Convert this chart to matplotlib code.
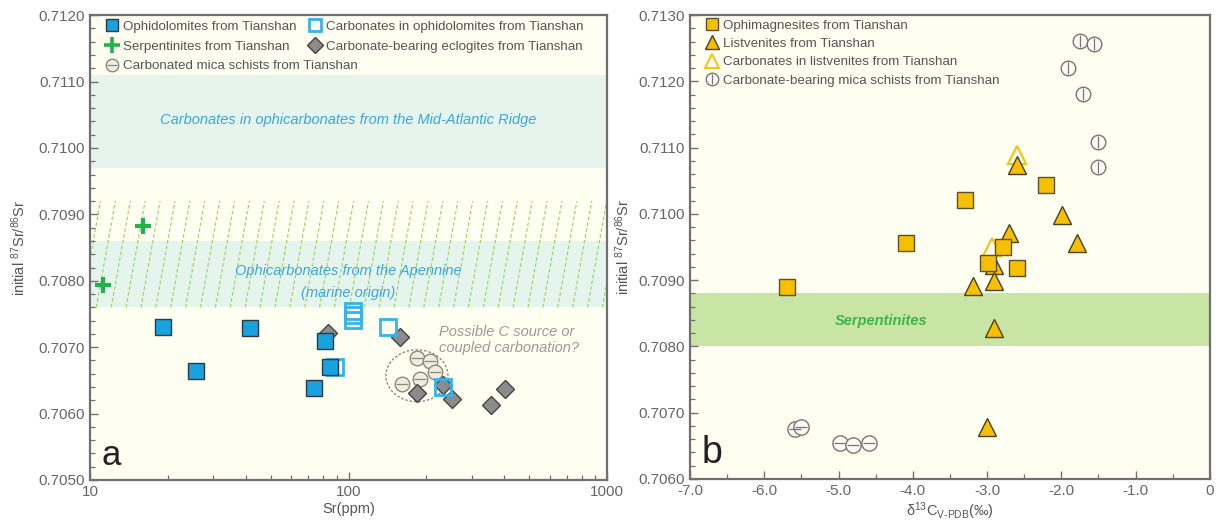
import numpy as np
import matplotlib
matplotlib.use("Agg")
import matplotlib.pyplot as plt
import matplotlib.transforms as mtransforms
from matplotlib.lines import Line2D
from matplotlib.legend_handler import HandlerTuple
from matplotlib.ticker import MultipleLocator, FixedLocator, NullFormatter, FixedFormatter

plt.rcParams["font.family"] = ["Liberation Sans", "DejaVu Sans"]
plt.rcParams["mathtext.fontset"] = "custom"
plt.rcParams["mathtext.rm"] = "Liberation Sans"
plt.rcParams["mathtext.it"] = "Liberation Sans:italic"
plt.rcParams["mathtext.default"] = "regular"

# ---------------- panel a: Sr (ppm) vs initial 87Sr/86Sr ----------------
ophidolomite_sr = [19.2, 25.7, 41.6, 81.1, 84.7, 73.5]
ophidolomite_ratio = [0.70730, 0.70664, 0.70729, 0.70709, 0.70670, 0.70639]
carb_ophid_sr = [104, 104, 104, 142, 88.7, 232]
carb_ophid_ratio = [0.70755, 0.70748, 0.70741, 0.70730, 0.70670, 0.70640]
serpentinite_sr = [16.0, 11.2]
serpentinite_ratio = [0.70883, 0.70794]
eclogite_sr = [83.4, 158, 184, 232, 251, 356, 403]
eclogite_ratio = [0.70721, 0.70715, 0.70631, 0.70643, 0.70622, 0.70613, 0.70637]
mica_a_sr = [184, 207, 161, 189, 216]
mica_a_ratio = [0.70684, 0.70679, 0.70645, 0.70652, 0.70663]

# reference fields (87Sr/86Sr ranges)
mar_band = (0.7097, 0.7111)
apennine_band = (0.7076, 0.7086)
apennine_hatch = (0.7076, 0.7092)

# ---------------- panel b: d13C vs initial 87Sr/86Sr ----------------
ophimag_d13c = [-5.69, -4.09, -3.30, -2.20, -2.79, -2.99, -2.60]
ophimag_ratio = [0.70890, 0.70956, 0.71021, 0.71043, 0.70950, 0.70926, 0.70918]
listv_d13c = [-2.60, -1.99, -1.79, -2.71, -2.90, -2.91, -3.19, -2.91, -3.00]
listv_ratio = [0.71074, 0.70998, 0.70956, 0.70971, 0.70923, 0.70899, 0.70891, 0.70828, 0.70678]
carb_listv_d13c = [-2.60, -2.93]
carb_listv_ratio = [0.71089, 0.70950]
mica_b_d13c = [-1.75, -1.56, -1.91, -1.71, -1.51, -1.51]
mica_b_ratio = [0.71261, 0.71256, 0.71220, 0.71181, 0.71108, 0.71071]
schist_b_d13c = [-5.59, -5.50, -4.98, -4.80, -4.59]
schist_b_ratio = [0.70675, 0.70678, 0.70654, 0.70651, 0.70654]
serp_band = (0.7080, 0.7088)

BG = "#fefef1"
TEAL = "#e6f4ee"
BLUE = "#19a2e0"
BLUE_TXT = "#3aa6e2"
GOLD = "#f6c000"
GRAY_D = "#8c8c8c"
SPINE = "#707070"
TICK_C = "#666666"
LEG_KW = dict(handler_map={tuple: HandlerTuple(ndivide=1, pad=0.0)}, frameon=False,
              fontsize=9.6, handlelength=0.9, handletextpad=0.35,
              borderaxespad=0.0, borderpad=0.0, loc="upper left")

fig = plt.figure(figsize=(12.22, 5.24), dpi=100)
ax_a = fig.add_axes([0.0737, 0.084, 0.4230, 0.887])
ax_b = fig.add_axes([0.5646, 0.086, 0.4255, 0.885])


def style_axes(ax):
    ax.set_facecolor(BG)
    for s in ax.spines.values():
        s.set_color(SPINE)
        s.set_linewidth(1.6)
    ax.tick_params(which="both", direction="in", color=SPINE, top=False, right=False,
                   labelcolor=TICK_C, labelsize=11)
    ax.tick_params(which="major", length=6, width=1.0)
    ax.tick_params(which="minor", length=3.5, width=0.9)


def circle_marker(ax, x, y, line, face, edge, size, z):
    ax.plot(x, y, ls="none", marker="o", ms=size, mfc=face, mec=edge, mew=1.0, zorder=z)
    ax.plot(x, y, ls="none", marker=line, ms=size * 0.8, mec=edge, mew=0.9, zorder=z)


def color_legend(leg):
    for txt in leg.get_texts():
        txt.set_color("#555555")
    return leg


# ---------------- panel a ----------------
ax = ax_a
style_axes(ax)
ax.set_xscale("log")
ax.set_xlim(10, 1000)
ax.set_ylim(0.7050, 0.7120)
ax.yaxis.set_major_locator(MultipleLocator(0.0010))
ax.yaxis.set_minor_locator(MultipleLocator(0.0002))
ax.yaxis.set_major_formatter(matplotlib.ticker.FormatStrFormatter("%.4f"))
ax.xaxis.set_major_locator(FixedLocator([10, 100, 1000]))
ax.xaxis.set_major_formatter(FixedFormatter(["10", "100", "1000"]))
ax.xaxis.set_minor_formatter(NullFormatter())

ax.axhspan(*mar_band, color=TEAL, lw=0, zorder=0.5)
ax.axhspan(*apennine_band, color=TEAL, lw=0, zorder=0.5)
trans = mtransforms.blended_transform_factory(ax.transAxes, ax.transData)
for i in range(-1, 36):
    x0 = 0.012 + i * 0.0288
    ax.plot([x0, x0 + 0.037], list(apennine_hatch), transform=trans, color="#9ad65c",
            lw=0.85, ls=(0, (3, 2)), zorder=0.8)

ax.text(100, 0.71042, "Carbonates in ophicarbonates from the Mid-Atlantic Ridge",
        style="italic", color=BLUE_TXT, fontsize=10.5, ha="center", va="center")
ax.text(100, 0.70815, "Ophicarbonates from the Apennine", style="italic",
        color=BLUE_TXT, fontsize=10.5, ha="center", va="center")
ax.text(100, 0.70781, "(marine origin)", style="italic", color=BLUE_TXT,
        fontsize=10.5, ha="center", va="center")
ax.text(224, 0.70711, "Possible C source or\ncoupled carbonation?", style="italic",
        color="#9a9a9a", fontsize=10.5, ha="left", va="center", linespacing=1.15)

# dashed envelope around the mica schist cluster
t = np.linspace(0, 2 * np.pi, 200)
ax.plot(10 ** (np.log10(184) + 0.12 * np.cos(t)), 0.70657 + 0.00039 * np.sin(t),
        color="#808080", lw=0.9, ls=(0, (2, 1.5)), zorder=2)

circle_marker(ax, mica_a_sr, mica_a_ratio, "_", "#efede0", "#8d8a78", 10.5, 3)
ax.plot(eclogite_sr, eclogite_ratio, ls="none", marker="D", ms=9, mfc=GRAY_D,
        mec="#444444", mew=1.0, zorder=4)
ax.plot(carb_ophid_sr, carb_ophid_ratio, ls="none", marker="s", ms=11, mfc="none",
        mec="#35b3ec", mew=2.0, zorder=5)
ax.plot(ophidolomite_sr, ophidolomite_ratio, ls="none", marker="s", ms=11.5, mfc=BLUE,
        mec="#2f3a40", mew=1.0, zorder=6)
ax.plot(serpentinite_sr, serpentinite_ratio, ls="none", marker="+", ms=12, mec="#22b24c",
        mew=3.0, zorder=6)

ax.text(0.022, 0.018, "a", transform=ax.transAxes, fontsize=25, color="#222222",
        ha="left", va="bottom")
ax.set_xlabel("Sr(ppm)", fontsize=10.5, color="#555555", labelpad=2)
ax.set_ylabel(r"initial $^{87}$Sr/$^{86}$Sr", fontsize=10.5, color="#555555", labelpad=8)

h_oph = Line2D([], [], ls="none", marker="s", ms=9, mfc=BLUE, mec="#2f3a40", mew=1.0)
h_serp = Line2D([], [], ls="none", marker="+", ms=11, mec="#22b24c", mew=2.6)
h_mica_o = Line2D([], [], ls="none", marker="o", ms=9, mfc="#efede0", mec="#8d8a78", mew=1.0)
h_mica_l = Line2D([], [], ls="none", marker="_", ms=7, mec="#8d8a78", mew=0.9)
h_cop = Line2D([], [], ls="none", marker="s", ms=9, mfc="none", mec="#35b3ec", mew=2.0)
h_ecl = Line2D([], [], ls="none", marker="D", ms=8, mfc=GRAY_D, mec="#444444", mew=1.0)
leg1 = color_legend(ax.legend(
    [h_oph, h_serp, (h_mica_o, h_mica_l)],
    ["Ophidolomites from Tianshan", "Serpentinites from Tianshan",
     "Carbonated mica schists from Tianshan"],
    bbox_to_anchor=(0.031, 0.988), labelspacing=0.55, **LEG_KW))
ax.add_artist(leg1)
color_legend(ax.legend(
    [h_cop, h_ecl],
    ["Carbonates in ophidolomites from Tianshan",
     "Carbonate-bearing eclogites from Tianshan"],
    bbox_to_anchor=(0.424, 0.988), labelspacing=0.55, **LEG_KW))

# ---------------- panel b ----------------
ax = ax_b
style_axes(ax)
ax.set_xlim(-7.0, 0.0)
ax.set_ylim(0.7060, 0.7130)
ax.xaxis.set_major_locator(MultipleLocator(1.0))
ax.xaxis.set_minor_locator(MultipleLocator(0.5))
ax.xaxis.set_major_formatter(matplotlib.ticker.FuncFormatter(
    lambda v, p: "0" if abs(v) < 1e-9 else f"{v:.1f}"))
ax.yaxis.set_major_locator(MultipleLocator(0.0010))
ax.yaxis.set_minor_locator(MultipleLocator(0.0002))
ax.yaxis.set_major_formatter(matplotlib.ticker.FormatStrFormatter("%.4f"))

ax.axhspan(*serp_band, color="#c9e5a5", lw=0, zorder=0.5)
ax.text(-4.43, 0.70838, "Serpentinites", style="italic", fontweight="bold",
        color="#3db54a", fontsize=10.5, ha="center", va="center")

circle_marker(ax, schist_b_d13c, schist_b_ratio, "_", "#fbfbf4", "#777777", 11, 3)
circle_marker(ax, mica_b_d13c, mica_b_ratio, "|", "#fbfbf4", "#777777", 10.5, 3)
ax.plot(carb_listv_d13c, carb_listv_ratio, ls="none", marker="^", ms=13, mfc="none",
        mec="#f7c21a", mew=1.6, zorder=4)
ax.plot(listv_d13c, listv_ratio, ls="none", marker="^", ms=13, mfc=GOLD,
        mec="#4a4020", mew=1.0, zorder=5)
ax.plot(ophimag_d13c, ophimag_ratio, ls="none", marker="s", ms=11.5, mfc=GOLD,
        mec="#5a5030", mew=1.0, zorder=6)

ax.text(0.022, 0.018, "b", transform=ax.transAxes, fontsize=27, color="#222222",
        ha="left", va="bottom")
ax.set_xlabel(r"$\delta^{13}$C$_{V\text{-}PDB}$(‰)", fontsize=10.5, color="#555555", labelpad=2)
ax.set_ylabel(r"initial $^{87}$Sr/$^{86}$Sr", fontsize=10.5, color="#555555", labelpad=5)

h_mag = Line2D([], [], ls="none", marker="s", ms=9, mfc=GOLD, mec="#5a5030", mew=1.0)
h_lis = Line2D([], [], ls="none", marker="^", ms=10, mfc=GOLD, mec="#4a4020", mew=1.0)
h_clis = Line2D([], [], ls="none", marker="^", ms=10, mfc="none", mec="#f7c21a", mew=1.5)
h_mb_o = Line2D([], [], ls="none", marker="o", ms=9, mfc="#fbfbf4", mec="#777777", mew=1.0)
h_mb_l = Line2D([], [], ls="none", marker="|", ms=7, mec="#777777", mew=0.9)
color_legend(ax.legend(
    [h_mag, h_lis, h_clis, (h_mb_o, h_mb_l)],
    ["Ophimagnesites from Tianshan", "Listvenites from Tianshan",
     "Carbonates in listvenites from Tianshan",
     "Carbonate-bearing mica schists from Tianshan"],
    bbox_to_anchor=(0.031, 0.991), labelspacing=0.45, **LEG_KW))

fig.savefig("out.png", dpi=100, facecolor="white")
